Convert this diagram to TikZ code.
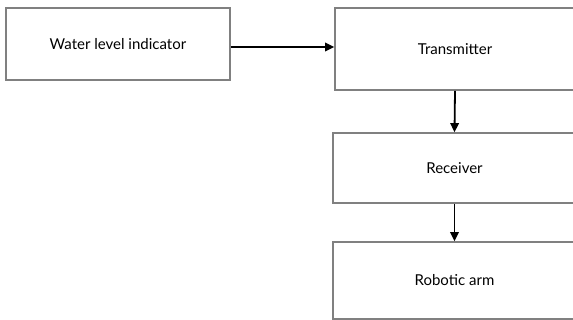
\documentclass[tikz,border=0pt]{standalone}
\usepackage{fontspec}
\setmainfont{Lato}
\usetikzlibrary{arrows.meta}
\begin{document}
\begin{tikzpicture}[x=1pt,y=-1pt,
  blk/.style={draw=black!50,line width=1.6pt,fill=white,inner sep=0pt,font=\fontsize{15}{18}\selectfont},
  conn/.style={line width=1.8pt,-{Triangle[length=9pt,width=8.5pt]}}]
\clip (0,0) rectangle (573,320);
\fill[white] (0,0) rectangle (573,320);
\node[blk,minimum width=224pt,minimum height=72pt] (wli) at (118,44) {Water level indicator};
\node[blk,minimum width=240pt,minimum height=82pt] (tx) at (455,49) {Transmitter};
\node[blk,minimum width=243pt,minimum height=70pt] (rx) at (454.5,168) {Receiver};
\node[blk,minimum width=243pt,minimum height=77pt] (arm) at (454.5,280.5) {Robotic arm};
\draw[conn] (wli.east |- 0,47) -- (tx.west |- 0,47);
\draw[conn] (tx.south) -- (rx.north);
\draw[conn] (rx.south) -- (arm.north);
\end{tikzpicture}
\end{document}
